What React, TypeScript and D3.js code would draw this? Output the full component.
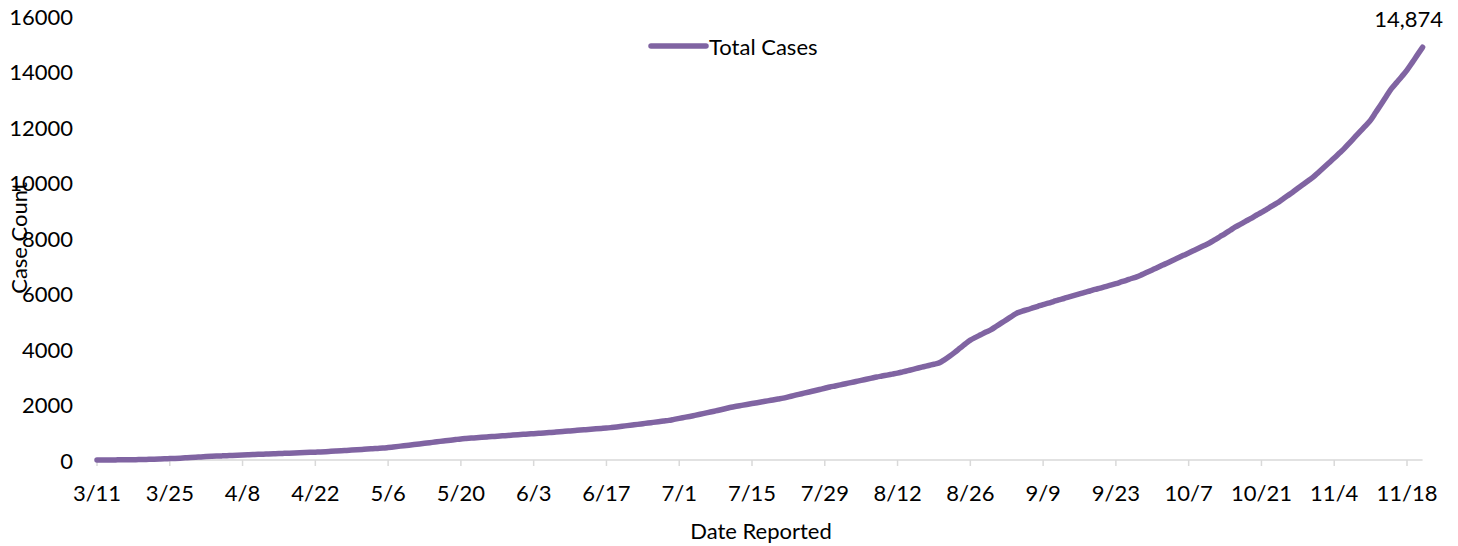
import React from "react";
import * as d3 from "d3";

const WIDTH = 1458;
const HEIGHT = 546;
const FONT = "Lato, 'Open Sans', sans-serif";
const FONT_SIZE = 22;
const LINE_COLOR = "#8064a2";

// cumulative cases, one value per day starting 3/11
const totalCases = [
  0, 1, 2, 3, 5, 7, 9, 12, 15, 19, 24, 29, 35, 42, 50,
  58, 67, 78, 90, 101, 111, 122, 131, 140, 148, 156, 163, 172, 180,
  187, 195, 203, 210, 218, 225, 233, 240, 247, 254, 261, 268, 275, 283, 290,
  300, 311, 322, 333, 345, 357, 369, 381, 394, 406, 418, 430,
  449, 470, 491, 513, 534, 556, 578, 600,
  624, 647, 671, 693, 715, 738, 760,
  776, 790, 803, 817, 830, 844, 857, 871, 884, 898, 911, 924, 937, 950,
  963, 977, 990, 1004, 1018, 1034, 1049, 1064, 1080, 1094, 1108, 1122, 1136, 1150,
  1170, 1192, 1215, 1239, 1262, 1284, 1308, 1333, 1356, 1380, 1405, 1429, 1464, 1500,
  1535, 1570, 1608, 1647, 1688, 1728, 1770, 1812, 1855, 1900,
  1935, 1968, 2001, 2034, 2066, 2099, 2131, 2164, 2197, 2230,
  2275, 2320, 2365, 2408, 2452, 2497, 2541, 2585, 2630,
  2668, 2708, 2748, 2789, 2829, 2869, 2910, 2950, 2990,
  3025, 3060, 3095, 3130,
  3175, 3221, 3267, 3315, 3361, 3407, 3452, 3500,
  3610, 3740, 3880, 4030, 4180, 4320,
  4420, 4515, 4610, 4700,
  4820, 4940, 5060, 5180, 5300,
  5365, 5420, 5480, 5540, 5600, 5650, 5710, 5770,
  5820, 5875, 5930, 5985, 6040, 6090, 6145, 6195, 6250, 6300,
  6355, 6415, 6475, 6540, 6600,
  6680, 6765, 6850, 6935, 7025, 7110, 7200,
  7285, 7375, 7460, 7550, 7640, 7730, 7820,
  7930, 8045, 8160, 8280, 8400,
  8500, 8605, 8710, 8820, 8925, 9035, 9145, 9260,
  9390, 9520, 9650, 9790, 9925, 10060, 10200,
  10370, 10540, 10710, 10880, 11060, 11240,
  11440, 11640, 11840, 12040, 12250,
  12530, 12810, 13100, 13380,
  13600, 13820, 14050,
  14320, 14600, 14874,
];

// every 14th day gets a label
const tickLabels = [
  "3/11", "3/25", "4/8", "4/22", "5/6", "5/20", "6/3", "6/17", "7/1", "7/15",
  "7/29", "8/12", "8/26", "9/9", "9/23", "10/7", "10/21", "11/4", "11/18",
];
const TICK_STEP = 14;
const yTicks = [0, 2000, 4000, 6000, 8000, 10000, 12000, 14000, 16000];

const App = () => {
  const lastIndex = totalCases.length - 1;
  const xScale = d3
    .scaleLinear()
    .domain([0, (tickLabels.length - 1) * TICK_STEP])
    .range([97, 1407]);
  const yScale = d3.scaleLinear().domain([0, 16000]).range([460, 16]);

  const linePath =
    d3
      .line<number>()
      .x((_, i) => xScale(i))
      .y((d) => yScale(d))
      .curve(d3.curveMonotoneX)(totalCases) || "";

  const axisEnd = xScale(lastIndex);
  const lastValue = totalCases[lastIndex];

  return (
    <svg
      width={WIDTH}
      height={HEIGHT}
      style={{ position: "absolute", left: 0, top: 0, background: "#fff" }}
      fontFamily={FONT}
      fontSize={FONT_SIZE}
    >
      {/* y axis labels */}
      {yTicks.map((t) => (
        <text
          key={t}
          x={73}
          y={yScale(t)}
          textAnchor="end"
          dominantBaseline="central"
          fill="#000"
        >
          {t}
        </text>
      ))}

      {/* x axis */}
      <line
        x1={xScale(0)}
        x2={axisEnd}
        y1={yScale(0)}
        y2={yScale(0)}
        stroke="#d9d9d9"
        strokeWidth={1.5}
      />
      {tickLabels.map((label, i) => {
        const x = xScale(i * TICK_STEP);
        return (
          <g key={label} transform={`translate(${x},${yScale(0)})`}>
            <line y1={0} y2={6} stroke="#d9d9d9" strokeWidth={1.5} />
            <text y={32} textAnchor="middle" dominantBaseline="central" fill="#000">
              {label}
            </text>
          </g>
        );
      })}

      <path
        d={linePath}
        fill="none"
        stroke={LINE_COLOR}
        strokeWidth={5.5}
        strokeLinecap="round"
        strokeLinejoin="round"
      />

      <text
        x={xScale(lastIndex) - 14}
        y={18}
        textAnchor="middle"
        dominantBaseline="central"
      >
        {d3.format(",")(lastValue)}
      </text>

      {/* legend */}
      <line
        x1={651}
        x2={706}
        y1={46}
        y2={46}
        stroke={LINE_COLOR}
        strokeWidth={5.5}
        strokeLinecap="round"
      />
      <text x={709} y={46} dominantBaseline="central">
        Total Cases
      </text>

      {/* axis titles */}
      <text
        transform="translate(18,238) rotate(-90)"
        textAnchor="middle"
        dominantBaseline="central"
      >
        Case Count
      </text>
      <text x={761} y={530} textAnchor="middle" dominantBaseline="central">
        Date Reported
      </text>
    </svg>
  );
};

export default App;
